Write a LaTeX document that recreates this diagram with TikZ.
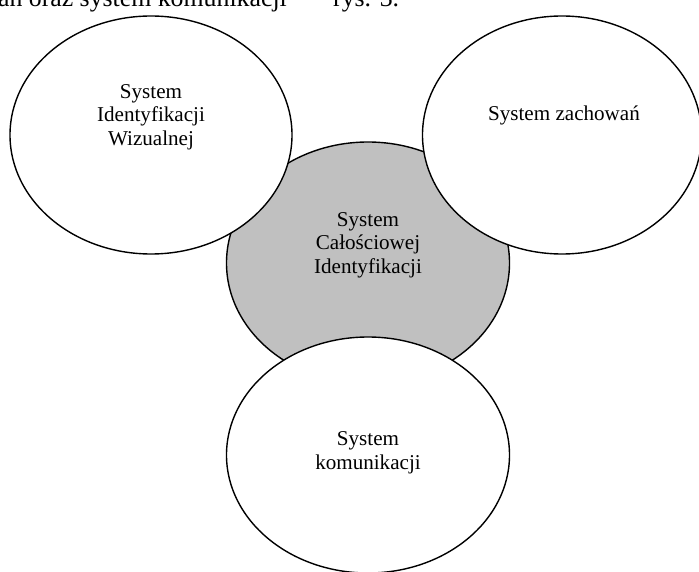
\documentclass[tikz,border=0pt]{standalone}
\usepackage{fontspec}
\setmainfont{Liberation Serif}
\usetikzlibrary{shapes.geometric}
\definecolor{shade}{RGB}{192,192,192}
\tikzset{
  blob/.style={ellipse, draw=black, line width=1.4pt, inner sep=0pt, outer sep=0pt},
  label/.style={align=center, inner sep=0pt, font=\fontsize{21.1}{23.5}\selectfont},
  topline/.style={inner sep=0pt, font=\fontsize{25.8}{30}\selectfont}
}
\begin{document}
\begin{tikzpicture}[x=1pt,y=-1pt]
\useasboundingbox (0,0) rectangle (699,572);
\fill[white] (0,0) rectangle (699,572);
\clip (0,0) rectangle (699,572);
% top, cut-off line of the page text
\node[topline, anchor=base east] (toptext) at (287,7) {zachowań oraz system komunikacji};
\node[topline, anchor=base west] (toprys) at (333,7) {rys. 3.};
% central grey ellipse
\node[blob, fill=shade, minimum width=283pt, minimum height=242pt] (cal) at (368,263) {};
% white ellipses on top
\node[blob, fill=white, minimum width=282pt, minimum height=238pt] (wiz) at (151,135) {};
\node[blob, fill=white, minimum width=279pt, minimum height=238pt] (zach) at (562,135) {};
\node[blob, fill=white, minimum width=283pt, minimum height=236pt] (kom) at (368,455) {};
% texts
\node[label] (wizt) at (151,117) {System\\Identyfikacji\\Wizualnej};
\node[label] (zacht) at (564,115) {System zachowań};
\node[label] (calt) at (368,245) {System\\Całościowej\\Identyfikacji};
\node[label] (komt) at (368,453) {System\\komunikacji};
\end{tikzpicture}
\end{document}
